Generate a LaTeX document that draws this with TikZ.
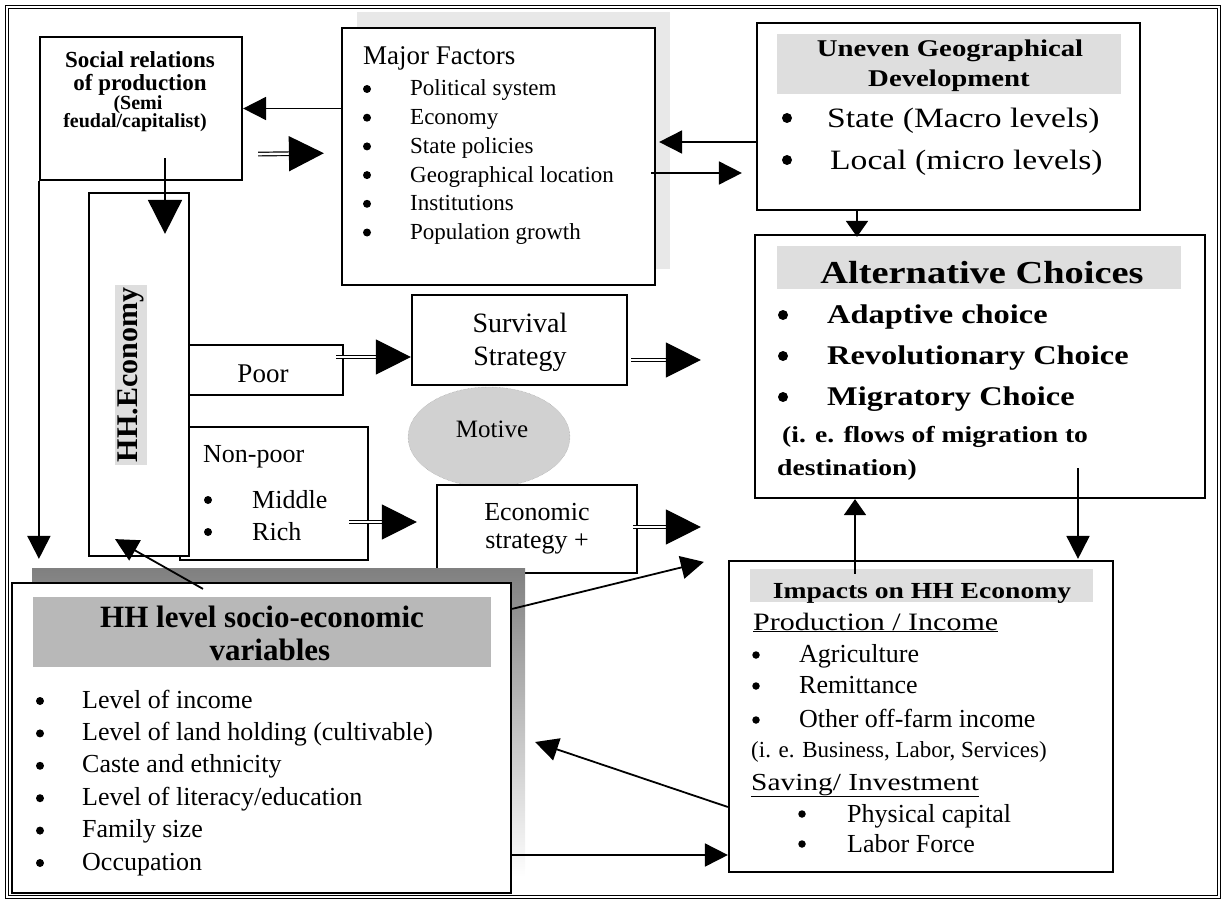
\documentclass[tikz,border=0pt]{standalone}
\usepackage{fontspec}
\setmainfont{Liberation Serif}
\newfontfamily\palfont[FakeStretch=1.2]{Liberation Serif}
\usetikzlibrary{arrows.meta,calc,shapes.geometric}
\definecolor{speck}{gray}{0.87}
\definecolor{faint}{gray}{0.91}
\definecolor{shade}{gray}{0.68}
\newcommand{\fs}[1]{\fontsize{#1}{#1}\selectfont}
\tikzstyle{box} = [rectangle, draw, line width=2.2pt, fill=white, inner sep=0pt]
\tikzstyle{txt} = [inner sep=0pt, anchor=base]
\tikzstyle{dot} = [circle, fill, inner sep=0pt, minimum size=8pt]
\tikzstyle{frame} = [line width=0.9pt, double, double distance=2.5pt]
\tikzstyle{arrow} = [line width=1.8pt, -{Triangle[length=23pt,width=23pt]}]
\tikzstyle{smallarrow} = [line width=1.8pt, -{Triangle[length=16pt,width=22pt]}]
\tikzstyle{bigarrow} = [line width=1.8pt, -{Triangle[length=34pt,width=34pt]}]
\tikzstyle{dblarrow} = [line width=1.2pt, double, double distance=2.4pt, -{Triangle[length=35pt,width=35pt]}]

\begin{document}
\begin{tikzpicture}[x=1pt,y=-1pt]
\useasboundingbox (0,0) rectangle (1225,904);

% outer frame
\draw[frame] (7,7) rectangle (1219,897);

% Social relations of production
\node[box, minimum width=202pt, minimum height=143pt] (social) at (141,108.5) {};
\node[txt, font=\bfseries\fs{23}] (soc1) at (140,68) {Social relations};
\node[txt, font=\bfseries\fs{23}] (soc2) at (140,91) {of production};
\node[txt, font=\bfseries\fs{20}] (soc3) at (138,110) {(Semi};
\node[txt, font=\bfseries\fs{20}] (soc4) at (135,128) {feudal/capitalist)};

% Major factors
\fill[faint] (357,12) rectangle (670,269);
\node[box, minimum width=313pt, minimum height=257pt] (major) at (498.5,156.5) {};
\node[txt, anchor=base west, font=\fs{27}] (mftitle) at (363,65) {Major Factors};
\foreach \t [count=\i from 0] in {Political system, Economy, State policies, Geographical location, Institutions, Population growth}{
  \node[dot] (mfb\i) at (367,{89+28.7*\i}) {};
  \node[txt, anchor=base west, font=\fs{23}] (mf\i) at (410,{96+28.7*\i}) {\t};
}

% Uneven geographical development
\node[box, minimum width=383pt, minimum height=187pt] (uneven) at (948.5,116.5) {};
\fill[speck] ($(uneven.north west)+(21,12)$) rectangle ($(uneven.north east)+(-20,72)$);
\node[txt, font=\palfont\bfseries\fs{24}] (ug1) at (950,57) {Uneven Geographical};
\node[txt, font=\palfont\bfseries\fs{24}] (ug2) at (949,87) {Development};
\node[dot, minimum size=10pt] (ugb1) at (787,118) {};
\node[dot, minimum size=10pt] (ugb2) at (787,160) {};
\node[txt, anchor=base west, font=\palfont\fs{28}] (ug3) at (827,128) {State (Macro levels)};
\node[txt, anchor=base west, font=\palfont\fs{28}] (ug4) at (830,170) {Local (micro levels)};

% Alternative choices
\node[box, minimum width=450pt, minimum height=263pt] (alt) at (980,366.5) {};
\fill[speck] ($(alt.north west)+(23,12)$) rectangle ($(alt.north east)+(-25,55)$);
\node[txt, font=\palfont\bfseries\fs{32}] (alttitle) at (982,283) {Alternative Choices};
\foreach \t [count=\i from 0] in {Adaptive choice, Revolutionary Choice, Migratory Choice}{
  \node[dot, minimum size=10pt] (altb\i) at (783,{315+41*\i}) {};
  \node[txt, anchor=base west, font=\palfont\bfseries\fs{27}] (alt\i) at (827,{323+41*\i}) {\t};
}
\node[txt, anchor=base west, font=\palfont\bfseries\fs{23}] (alt3) at (782,442) {(i. e. flows of migration to};
\node[txt, anchor=base west, font=\palfont\bfseries\fs{23}] (alt4) at (777,475) {destination)};

% HH economy and its groups
\node[box, minimum width=163pt, minimum height=50pt] (poor) at (261.5,370) {};
\node[txt, font=\fs{27}] (poortxt) at (263,382) {Poor};
\node[box, minimum width=188pt, minimum height=133pt] (nonpoor) at (274,493.5) {};
\node[txt, anchor=base west, font=\fs{26}] (nptxt) at (203,462) {Non-poor};
\node[dot] (npb1) at (208,500) {};
\node[dot] (npb2) at (208,532) {};
\node[txt, anchor=base west, font=\fs{26}] (np1) at (252,508) {Middle};
\node[txt, anchor=base west, font=\fs{26}] (np2) at (252,540) {Rich};
\node[box, minimum width=100pt, minimum height=363pt] (hheco) at (139,374.5) {};
\node[txt, anchor=center, rotate=90, fill=speck, inner sep=3pt, font=\bfseries\fs{30}] (hhetxt) at (131,375) {HH.Economy};

% Strategies and motive
\node[box, minimum width=215pt, minimum height=90pt] (survival) at (519.5,340) {};
\node[txt, font=\fs{28}] (sv1) at (520,332) {Survival};
\node[txt, font=\fs{28}] (sv2) at (520,365) {Strategy};
\node[ellipse, fill=black!18, draw=black!40, densely dotted, minimum width=162pt, minimum height=100pt] (motive) at (489,437) {};
\node[txt, font=\fs{25}] (motivetxt) at (492,437) {Motive};
\node[box, minimum width=200pt, minimum height=88pt] (econ) at (537,529) {};
\node[txt, font=\fs{26}] (ec1) at (537,520) {Economic};
\node[txt, font=\fs{26}] (ec2) at (537,548) {strategy +};

% HH level socio-economic variables
\fill[shade] (32,568) rectangle (525,877);
\node[box, minimum width=499pt, minimum height=310pt] (hhvar) at (261.5,738) {};
\fill[black!28] ($(hhvar.north west)+(22,15)$) rectangle ($(hhvar.north east)+(-21,85)$);
\node[txt, font=\bfseries\fs{31}] (hv1) at (262,627) {HH level socio-economic};
\node[txt, font=\bfseries\fs{31}] (hv2) at (270,660) {variables};
\foreach \t [count=\i from 0] in {Level of income, Level of land holding (cultivable), Caste and ethnicity, Level of literacy/education, Family size, Occupation}{
  \node[dot] (hvb\i) at (40,{701+32.4*\i}) {};
  \node[txt, anchor=base west, font=\fs{26}] (hvi\i) at (82,{708+32.4*\i}) {\t};
}

% Impacts on HH economy
\node[box, minimum width=384pt, minimum height=311pt] (impacts) at (921,716.5) {};
\fill[speck] ($(impacts.north west)+(22,9)$) rectangle ($(impacts.north east)+(-21,42)$);
\node[txt, font=\palfont\bfseries\fs{23}] (imptitle) at (922,598) {Impacts on HH Economy};
\node[txt, anchor=base west, font=\palfont\fs{25}] (imp1) at (753,630) {\underline{Production / Income}};
\foreach \t/\y [count=\i] in {Agriculture/662, Remittance/693, Other off-farm income/727}{
  \node[dot, minimum size=7.5pt] (impb\i) at (756,\y-7) {};
  \node[txt, anchor=base west, font=\fs{26}] (impi\i) at (799,\y) {\t};
}
\node[txt, anchor=base west, font=\fs{23}] (imp2) at (751,757) {(i. e. Business, Labor, Services)};
\node[txt, anchor=base west, font=\palfont\fs{24.5}] (imp3) at (751,790) {\underline{Saving/ Investment}};
\foreach \t/\y [count=\i] in {Physical capital/822, Labor Force/852}{
  \node[dot, minimum size=7.5pt] (impc\i) at (802,\y-8) {};
  \node[txt, anchor=base west, font=\fs{26}] (impd\i) at (847,\y) {\t};
}

% Arrows
\draw[arrow] (major.west |- social.east) -- (social.east);
\draw[dblarrow, shorten >=17pt] ($(social.south east)+(15,-27)$) -- ($(major.west)+(0,-3.5)$);
\draw[bigarrow] ($(social.south)+(24,-23)$) -- ($(hheco.north)+(26,42)$);
\draw[arrow] (social.south west) -- ($(social.south west |- hhvar.north)+(0,-23)$);
\draw[dblarrow] ($(poor.east)+(-8,-13)$) -- ($(poor.east -| survival.west)+(0,-13)$);
\draw[dblarrow] ($(nonpoor.east)+(-20,28.5)$) -- ($(nonpoor.east -| econ.west)+(-19,28.5)$);
\draw[dblarrow] ($(survival.east)+(3,20)$) -- ($(survival.east -| alt.west)+(-53,20)$);
\draw[dblarrow] ($(econ.east)+(-5,-2)$) -- ($(econ.east -| alt.west)+(-53,-2)$);
\draw[arrow] ($(hhvar.north east)+(0,27)$) -- ($(impacts.north west)+(-24,2)$);
\draw[arrow] ($(hhvar.north)+(-58.5,7)$) -- ($(hheco.south)+(-24,-18)$);
\draw[arrow] ($(major.east)+(-5,16.5)$) -- ($(major.east -| uneven.west)+(-14,16.5)$);
\draw[arrow] ($(uneven.west)+(0,25.5)$) -- ($(uneven.west -| major.east)+(3,25.5)$);
\draw[smallarrow] ($(uneven.south)+(-91.5,0)$) -- ($(uneven.south |- alt.north)+(-91.5,3)$);
\draw[arrow] ($(alt.south)+(98,-31)$) -- ($(alt.south |- impacts.north)+(98,-1)$);
\draw[smallarrow] ($(impacts.north)+(-66,14)$) -- ($(impacts.north |- alt.south)+(-66,0)$);
\draw[arrow] ($(impacts.west)+(0,90.5)$) -- ($(hhvar.east)+(23,4)$);
\draw[arrow] ($(hhvar.east)+(0,117)$) -- ($(hhvar.east -| impacts.west)+(0,117)$);
\end{tikzpicture}
\end{document}
